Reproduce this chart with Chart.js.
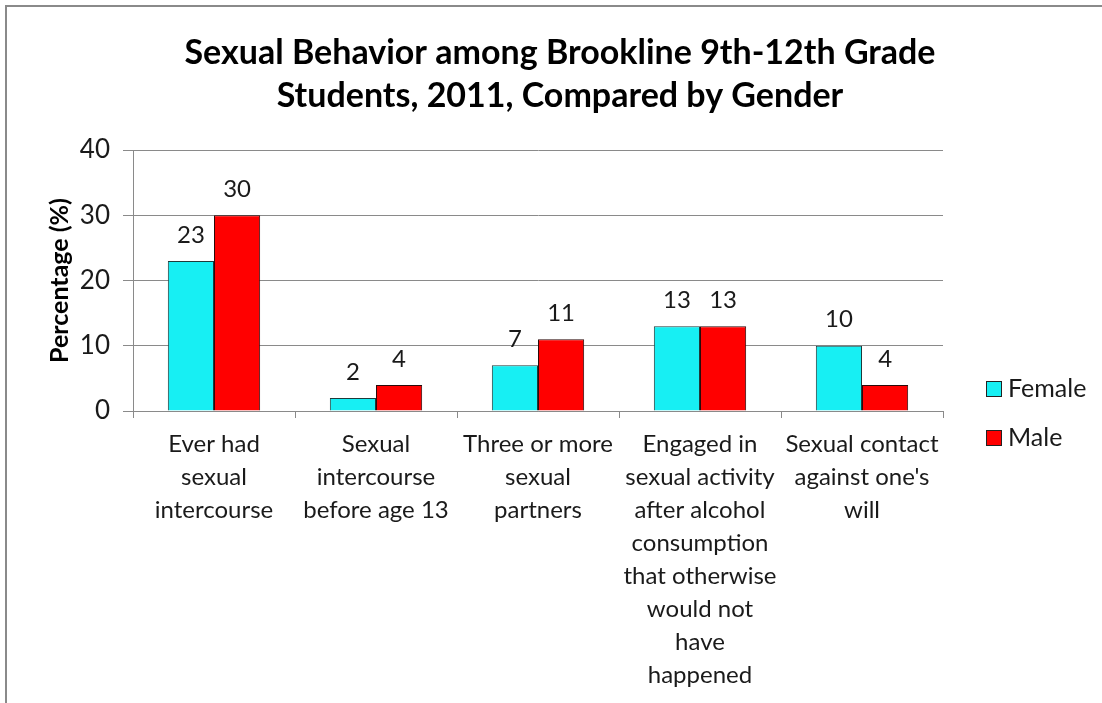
<!DOCTYPE html>
<html>
<head>
<meta charset="utf-8">
<script src="https://cdn.jsdelivr.net/npm/chart.js@4.4.1/dist/chart.umd.min.js"></script>
<style>
    html, body { margin: 0; padding: 0; background: #fff; }
    #wrap { width: 1102px; height: 703px; position: relative; }
</style>
</head>
<body>
<div id="wrap"><canvas id="behaviorChart" width="1102" height="703"></canvas></div>
<script>
// Sexual behavior by gender, Brookline 9th-12th grade, 2011

const categories = [
    ['Ever had', 'sexual', 'intercourse'],
    ['Sexual', 'intercourse', 'before age 13'],
    ['Three or more', 'sexual', 'partners'],
    ['Engaged in', 'sexual activity', 'after alcohol', 'consumption', 'that otherwise', 'would not', 'have', 'happened'],
    ['Sexual contact', "against one's", 'will']
];
const femaleValues = [23, 2, 7, 13, 10];
const maleValues = [30, 4, 11, 13, 4];
const yTicks = [0, 10, 20, 30, 40];

const FONT = 'Lato, "Open Sans", sans-serif';

// value labels above each bar
const valueLabels = {
    id: 'valueLabels',
    afterDatasetsDraw(chart) {
        const ctx = chart.ctx;
        ctx.save();
        ctx.font = '24px ' + FONT;
        ctx.fillStyle = '#1a1a1a';
        ctx.textAlign = 'center';
        ctx.textBaseline = 'middle';
        chart.data.datasets.forEach((ds, i) => {
            chart.getDatasetMeta(i).data.forEach((bar, j) => {
                ctx.fillText(String(ds.data[j]), bar.x, bar.y - 26);
            });
        });
        ctx.restore();
    }
};

// title, frame and legend
const decorations = {
    id: 'decorations',
    afterDraw(chart) {
        const ctx = chart.ctx;
        ctx.save();
        ctx.strokeStyle = '#8a8a8a';
        ctx.lineWidth = 2;
        ctx.beginPath();
        ctx.moveTo(6, 703);
        ctx.lineTo(6, 6);
        ctx.lineTo(1102, 6);
        ctx.stroke();

        ctx.fillStyle = '#000';
        ctx.textAlign = 'center';
        ctx.textBaseline = 'middle';
        ctx.font = 'bold 34px ' + FONT;
        ctx.fillText('Sexual Behavior among Brookline 9th-12th Grade', 560, 53);
        ctx.fillText('Students, 2011, Compared by Gender', 560, 96);

        ctx.textAlign = 'left';
        ctx.font = '25px ' + FONT;
        const rows = [389, 438];
        chart.data.datasets.forEach((ds, i) => {
            const y = rows[i];
            ctx.fillStyle = ds.backgroundColor;
            ctx.fillRect(986, y - 8, 16, 16);
            ctx.strokeStyle = '#222';
            ctx.lineWidth = 1;
            ctx.strokeRect(986.5, y - 7.5, 15, 15);
            ctx.fillStyle = '#1a1a1a';
            ctx.fillText(ds.label, 1008, y);
        });
        ctx.restore();
    }
};

new Chart(document.getElementById('behaviorChart'), {
    type: 'bar',
    data: {
        labels: categories,
        datasets: [
            {
                label: 'Female',
                data: femaleValues,
                backgroundColor: '#17eff3',
                borderColor: '#1f3a3a',
                borderWidth: 1
            },
            {
                label: 'Male',
                data: maleValues,
                backgroundColor: '#ff0000',
                borderColor: '#2a0a0a',
                borderWidth: 1
            }
        ]
    },
    options: {
        responsive: false,
        animation: false,
        devicePixelRatio: 1,
        categoryPercentage: 0.57,
        barPercentage: 1.0,
        layout: { padding: { top: 150, left: 45, right: 159, bottom: 0 } },
        plugins: {
            legend: { display: false },
            title: { display: false },
            tooltip: { enabled: false }
        },
        scales: {
            x: {
                grid: {
                    offset: true,
                    drawOnChartArea: false,
                    tickLength: 7,
                    color: '#8a8a8a'
                },
                border: { color: '#8a8a8a' },
                ticks: {
                    color: '#1a1a1a',
                    font: { family: FONT, size: 24, lineHeight: '33px' },
                    padding: 10,
                    maxRotation: 0,
                    autoSkip: false
                },
                afterFit(scale) { scale.height = 292; }
            },
            y: {
                min: 0,
                max: 40,
                afterBuildTicks(scale) {
                    scale.ticks = yTicks.map(v => ({ value: v }));
                },
                grid: { color: '#8a8a8a', tickLength: 10 },
                border: { color: '#8a8a8a' },
                ticks: {
                    color: '#1a1a1a',
                    font: { family: FONT, size: 26 },
                    padding: 13
                },
                title: {
                    display: true,
                    text: 'Percentage (%)',
                    color: '#000',
                    font: { family: FONT, size: 25, weight: 'bold' },
                    padding: 0
                },
                afterFit(scale) { scale.width = 88; }
            }
        }
    },
    plugins: [valueLabels, decorations]
});
</script>
</body>
</html>
